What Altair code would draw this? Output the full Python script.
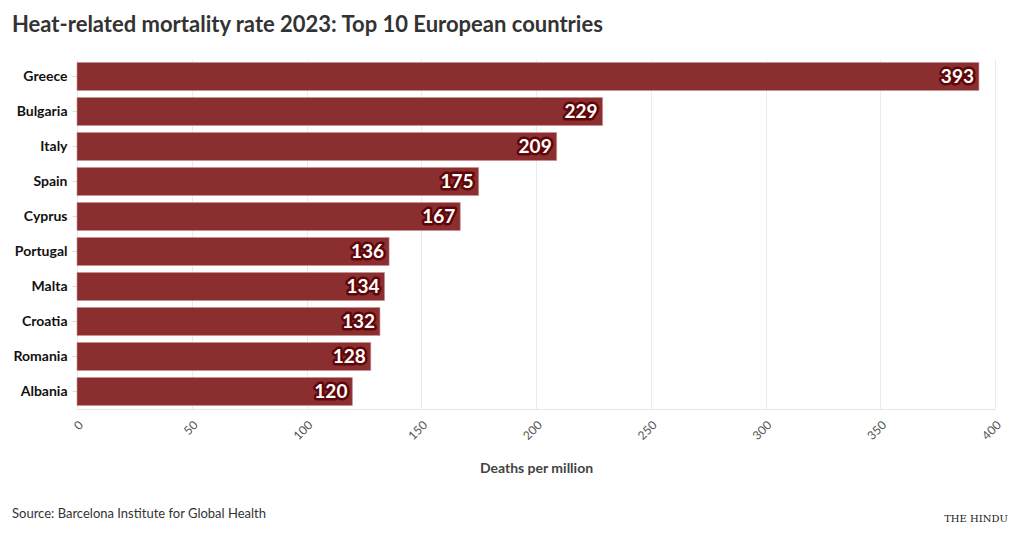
import altair as alt
import pandas as pd

countries = ["Greece", "Bulgaria", "Italy", "Spain", "Cyprus", "Portugal", "Malta", "Croatia", "Romania", "Albania"]
values = [393, 229, 209, 175, 167, 136, 134, 132, 128, 120]
x_ticks = [0, 50, 100, 150, 200, 250, 300, 350, 400]

title_text = "Heat-related mortality rate 2023: Top 10 European countries"
source_text = "Source: Barcelona Institute for Global Health"
x_title = "Deaths per million"

FONT = "Lato"
df = pd.DataFrame({"country": countries, "value": values})

W, H = 918, 350

base = alt.Chart(df)
y_enc = alt.Y("country:N", sort=countries,
              scale=alt.Scale(paddingInner=0.2, paddingOuter=0.1),
              axis=alt.Axis(title=None, labelFont=FONT, labelFontSize=14, labelFontWeight="bold",
                            labelColor="#111", tickColor="#ddd", tickSize=5, labelPadding=5,
                            domain=False, grid=False))
x_enc = alt.X("value:Q", scale=alt.Scale(domain=[0, 400], nice=False),
              axis=alt.Axis(values=x_ticks, title=x_title, titleFont=FONT, titleFontSize=14,
                            titleFontWeight="bold", titleColor="#444", titlePadding=20,
                            labelFont=FONT, labelFontSize=12, labelColor="#555", labelAngle=-45,
                            grid=True, gridColor="#ebebeb", domainColor="#e6e6e6",
                            ticks=False, labelPadding=10))

bars = base.mark_bar(color="#8b2e30", stroke="#c98f8f", strokeWidth=1, strokeOpacity=0.6).encode(
    x=x_enc, y=y_enc)

halo = base.mark_text(align="right", baseline="middle", dx=-5, font=FONT, fontSize=19,
                      fontWeight="bold", stroke="#5e0608", strokeWidth=5, strokeJoin="round",
                      fill="#5e0608").encode(
    x="value:Q", y=alt.Y("country:N", sort=countries), text="value:Q")
labels = base.mark_text(align="right", baseline="middle", dx=-5, font=FONT, fontSize=19,
                        fontWeight="bold", color="white").encode(
    x="value:Q", y=alt.Y("country:N", sort=countries), text="value:Q")

title = alt.Chart(pd.DataFrame({"t": [title_text]})).mark_text(
    align="left", baseline="alphabetic", font=FONT, fontSize=22, fontWeight="bold", color="#333"
).encode(x=alt.value(-65), y=alt.value(-27), text="t:N")

source = alt.Chart(pd.DataFrame({"t": [source_text]})).mark_text(
    align="left", baseline="alphabetic", font=FONT, fontSize=13, color="#333"
).encode(x=alt.value(-65), y=alt.value(459), text="t:N")

logo = alt.Chart(pd.DataFrame({"t": ["THE HINDU"]})).mark_text(
    align="center", baseline="alphabetic", font="DejaVu Serif", fontSize=10, color="#222"
).encode(x=alt.value(899), y=alt.value(463), text="t:N")

chart = alt.layer(bars, halo, labels, title, source, logo).properties(
    width=W, height=H,
    autosize=alt.AutoSizeParams(type="none"),
    padding={"left": 77, "top": 59, "right": 25, "bottom": 131},
    background="white",
).configure_view(stroke=None)

chart.save("out.html", embed_options={"renderer": "svg", "actions": False})
